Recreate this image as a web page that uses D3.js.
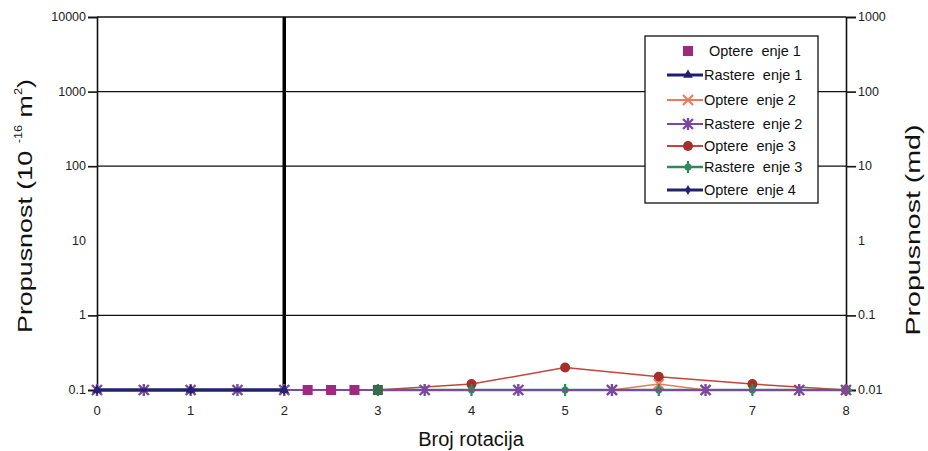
<!DOCTYPE html>
<html>
<head>
<meta charset="utf-8">
<script src="https://cdn.jsdelivr.net/npm/d3@7"></script>
<style>
  body { margin: 0; background: #fff; }
  svg { font-family: "Liberation Sans", Arial, sans-serif; }
  .legend-text { white-space: pre; }
</style>
</head>
<body>
<div class="chart"></div>
<script>
// data
var seriesNames = ["Optere  enje 1", "Rastere  enje 1", "Optere  enje 2", "Rastere  enje 2",
                   "Optere  enje 3", "Rastere  enje 3", "Optere  enje 4"];
var opt1X = [2.25, 2.5, 2.75, 3];
var opt1Y = [0.1, 0.1, 0.1, 0.1];
var ras1X = [0, 1, 2];
var ras1Y = [0.1, 0.1, 0.1];
var opt2X = [5.5, 6, 6.5];
var opt2Y = [0.1, 0.12, 0.1];
var ras2X = [0, 0.5, 1, 1.5, 2, 3.5, 4.5, 5.5, 6.5, 7.5, 8];
var ras2Y = [0.1, 0.1, 0.1, 0.1, 0.1, 0.1, 0.1, 0.1, 0.1, 0.1, 0.1];
var opt3X = [3, 4, 5, 6, 7, 8];
var opt3Y = [0.1, 0.12, 0.2, 0.15, 0.12, 0.1];
var ras3X = [3, 4, 5, 6, 7, 8];
var ras3Y = [0.1, 0.1, 0.1, 0.1, 0.1, 0.1];
var opt4X = [0, 1, 2];
var opt4Y = [0.1, 0.1, 0.1];
var markLineX = 2;

var xTicks = [0, 1, 2, 3, 4, 5, 6, 7, 8];
var leftTicks = [0.1, 1, 10, 100, 1000, 10000];
var leftTickMarks = [0.1, 1, 100, 1000, 10000];
var rightTicks = [0.01, 0.1, 1, 10, 100, 1000];
var rightTickMarks = [0.01, 0.1, 10, 100, 1000];
var gridVals = [1, 100, 1000, 10000];

var svgWidth = 928;
var svgHeight = 451;
var margin = { top: 17, right: 82, bottom: 61, left: 97 };
var width = svgWidth - margin.left - margin.right;
var height = svgHeight - margin.top - margin.bottom;

var svg = d3.select(".chart").append("svg")
    .attr("width", svgWidth)
    .attr("height", svgHeight);

var chart = svg.append("g")
    .attr("transform", `translate(${margin.left},${margin.top})`);

var xScale = d3.scaleLinear().domain([0, 8]).range([0, width]);
var yScale = d3.scaleLog().domain([0.1, 10000]).range([height, 0]);
var yScaleR = d3.scaleLog().domain([0.01, 1000]).range([height, 0]);

// gridlines
chart.selectAll(".grid")
    .data(gridVals)
    .enter().append("line")
    .attr("x1", 0).attr("x2", width)
    .attr("y1", function (d) { return yScale(d); })
    .attr("y2", function (d) { return yScale(d); })
    .attr("stroke", "#111").attr("stroke-width", 1.3);

// left axis
var yAxis = d3.axisLeft(yScale).tickValues(leftTickMarks).tickSize(9).tickFormat("");
chart.append("g").attr("class", "y-axis").call(yAxis);
chart.selectAll(".ylab")
    .data(leftTicks)
    .enter().append("text")
    .attr("x", -11)
    .attr("y", function (d) { return yScale(d) + 4; })
    .attr("text-anchor", "end")
    .attr("font-size", "12.5px")
    .attr("fill", "#222")
    .text(function (d) { return d; });

// right axis
var yAxisR = d3.axisRight(yScaleR).tickValues(rightTickMarks).tickSize(10).tickFormat("");
chart.append("g").attr("class", "y-axis-r")
    .attr("transform", `translate(${width},0)`)
    .call(yAxisR);
chart.selectAll(".yrlab")
    .data(rightTicks)
    .enter().append("text")
    .attr("x", width + 12)
    .attr("y", function (d) { return yScaleR(d) + 4; })
    .attr("font-size", "12.5px")
    .attr("fill", "#222")
    .text(function (d) { return d; });

svg.selectAll(".y-axis path, .y-axis-r path, .y-axis line, .y-axis-r line")
    .attr("stroke", "#111").attr("stroke-width", 1.6);

// x tick labels (no visible axis line)
chart.selectAll(".xlab")
    .data(xTicks)
    .enter().append("text")
    .attr("x", function (d) { return xScale(d); })
    .attr("y", height + 25)
    .attr("text-anchor", "middle")
    .attr("font-size", "13px")
    .attr("fill", "#222")
    .text(function (d) { return d; });

// thick vertical line
chart.append("line")
    .attr("x1", xScale(markLineX)).attr("x2", xScale(markLineX))
    .attr("y1", 0).attr("y2", height)
    .attr("stroke", "#000").attr("stroke-width", 3.5);

// marker shapes
function drawMarker(g, type, color, x, y) {
    if (type == "square") {
        g.append("rect").attr("x", x - 5).attr("y", y - 5).attr("width", 10).attr("height", 10)
            .attr("fill", color);
    } else if (type == "triangle") {
        g.append("path").attr("d", d3.symbol(d3.symbolTriangle, 40)()).attr("transform", `translate(${x},${y})`)
            .attr("fill", color);
    } else if (type == "x") {
        g.append("path").attr("d", `M${x - 5},${y - 5}L${x + 5},${y + 5}M${x - 5},${y + 5}L${x + 5},${y - 5}`)
            .attr("stroke", color).attr("stroke-width", 2);
    } else if (type == "asterisk") {
        g.append("path").attr("d", `M${x - 5},${y - 5}L${x + 5},${y + 5}M${x - 5},${y + 5}L${x + 5},${y - 5}M${x},${y - 6}L${x},${y + 6}`)
            .attr("stroke", color).attr("stroke-width", 2.4);
    } else if (type == "circle") {
        g.append("circle").attr("cx", x).attr("cy", y).attr("r", 5).attr("fill", color);
    } else if (type == "plus") {
        g.append("path").attr("d", `M${x - 6},${y}L${x + 6},${y}M${x},${y - 6}L${x},${y + 6}`)
            .attr("stroke", color).attr("stroke-width", 2.2);
        g.append("circle").attr("cx", x).attr("cy", y).attr("r", 3.5).attr("fill", color);
    } else if (type == "diamond") {
        g.append("path").attr("d", d3.symbol(d3.symbolDiamond, 30)()).attr("transform", `translate(${x},${y})`)
            .attr("fill", color);
    }
}

var series = [
    { name: seriesNames[0], xs: opt1X, ys: opt1Y, color: "#a0287e", line: null, marker: "square", lw: 0 },
    { name: seriesNames[1], xs: ras1X, ys: ras1Y, color: "#1c1f78", line: "#1c1f78", marker: "triangle", lw: 3 },
    { name: seriesNames[2], xs: opt2X, ys: opt2Y, color: "#f0785a", line: "#f0785a", marker: "x", lw: 1.5 },
    { name: seriesNames[3], xs: ras2X, ys: ras2Y, color: "#7b4a9e", line: "#7b4a9e", marker: "asterisk", lw: 2 },
    { name: seriesNames[4], xs: opt3X, ys: opt3Y, color: "#a4302c", line: "#c4453a", marker: "circle", lw: 1.5 },
    { name: seriesNames[5], xs: ras3X, ys: ras3Y, color: "#2e8b57", line: "#2e8b57", marker: "plus", lw: 2.5 },
    { name: seriesNames[6], xs: opt4X, ys: opt4Y, color: "#23226d", line: "#23226d", marker: "diamond", lw: 3 }
];

var drawOrder = [4, 2, 5, 3, 1, 6, 0];
var lineGen = d3.line()
    .x(function (d) { return xScale(d[0]); })
    .y(function (d) { return yScale(d[1]); });

drawOrder.forEach(function (i) {
    var s = series[i];
    var g = chart.append("g").attr("class", "series");
    var pts = s.xs.map(function (x, j) { return [x, s.ys[j]]; });
    if (s.line) {
        g.append("path").datum(pts).attr("d", lineGen)
            .attr("fill", "none").attr("stroke", s.line).attr("stroke-width", s.lw);
    }
    pts.forEach(function (p) {
        var c = s.color;
        if (i == 0 && p[0] == 3) c = "#3b6a4a";
        drawMarker(g, s.marker, c, xScale(p[0]), yScale(p[1]));
    });
});

// legend
var legend = svg.append("g").attr("transform", "translate(645,36)");
legend.append("rect").attr("width", 173).attr("height", 167)
    .attr("fill", "#fff").attr("stroke", "#111").attr("stroke-width", 1.3);
var legendY = [15, 39, 64, 88, 110, 131, 154];
series.forEach(function (s, i) {
    var y = legendY[i];
    if (s.line) {
        legend.append("line").attr("x1", 22).attr("x2", 58).attr("y1", y).attr("y2", y)
            .attr("stroke", s.line).attr("stroke-width", Math.max(s.lw, 2));
    }
    drawMarker(legend, s.marker, s.color, 43, y);
    legend.append("text").attr("class", "legend-text")
        .attr("x", i == 0 ? 64 : 59).attr("y", y + 5)
        .attr("font-size", "14.5px").attr("fill", "#111")
        .text(s.name);
});

// axis titles (stretched along their length, as in the picture)
var leftTitle = svg.append("text")
    .attr("transform", "translate(32,206)rotate(-90)scale(1.28,1)")
    .attr("text-anchor", "middle")
    .attr("font-size", "21px").attr("fill", "#111");
leftTitle.append("tspan").text("Propusnost (10 ");
leftTitle.append("tspan").attr("font-size", "10px").attr("dy", -10).text("-16");
leftTitle.append("tspan").attr("dy", 10).text(" m");
leftTitle.append("tspan").attr("font-size", "10px").attr("dy", -10).text("2");
leftTitle.append("tspan").attr("dy", 10).text(")");

svg.append("text")
    .attr("transform", "translate(920,230)rotate(-90)scale(1.36,1)")
    .attr("text-anchor", "middle")
    .attr("font-size", "21px").attr("fill", "#111")
    .text("Propusnost (md)");

svg.append("text")
    .attr("x", 471).attr("y", 446)
    .attr("text-anchor", "middle")
    .attr("font-size", "20px").attr("fill", "#111")
    .text("Broj rotacija");
</script>
</body>
</html>
